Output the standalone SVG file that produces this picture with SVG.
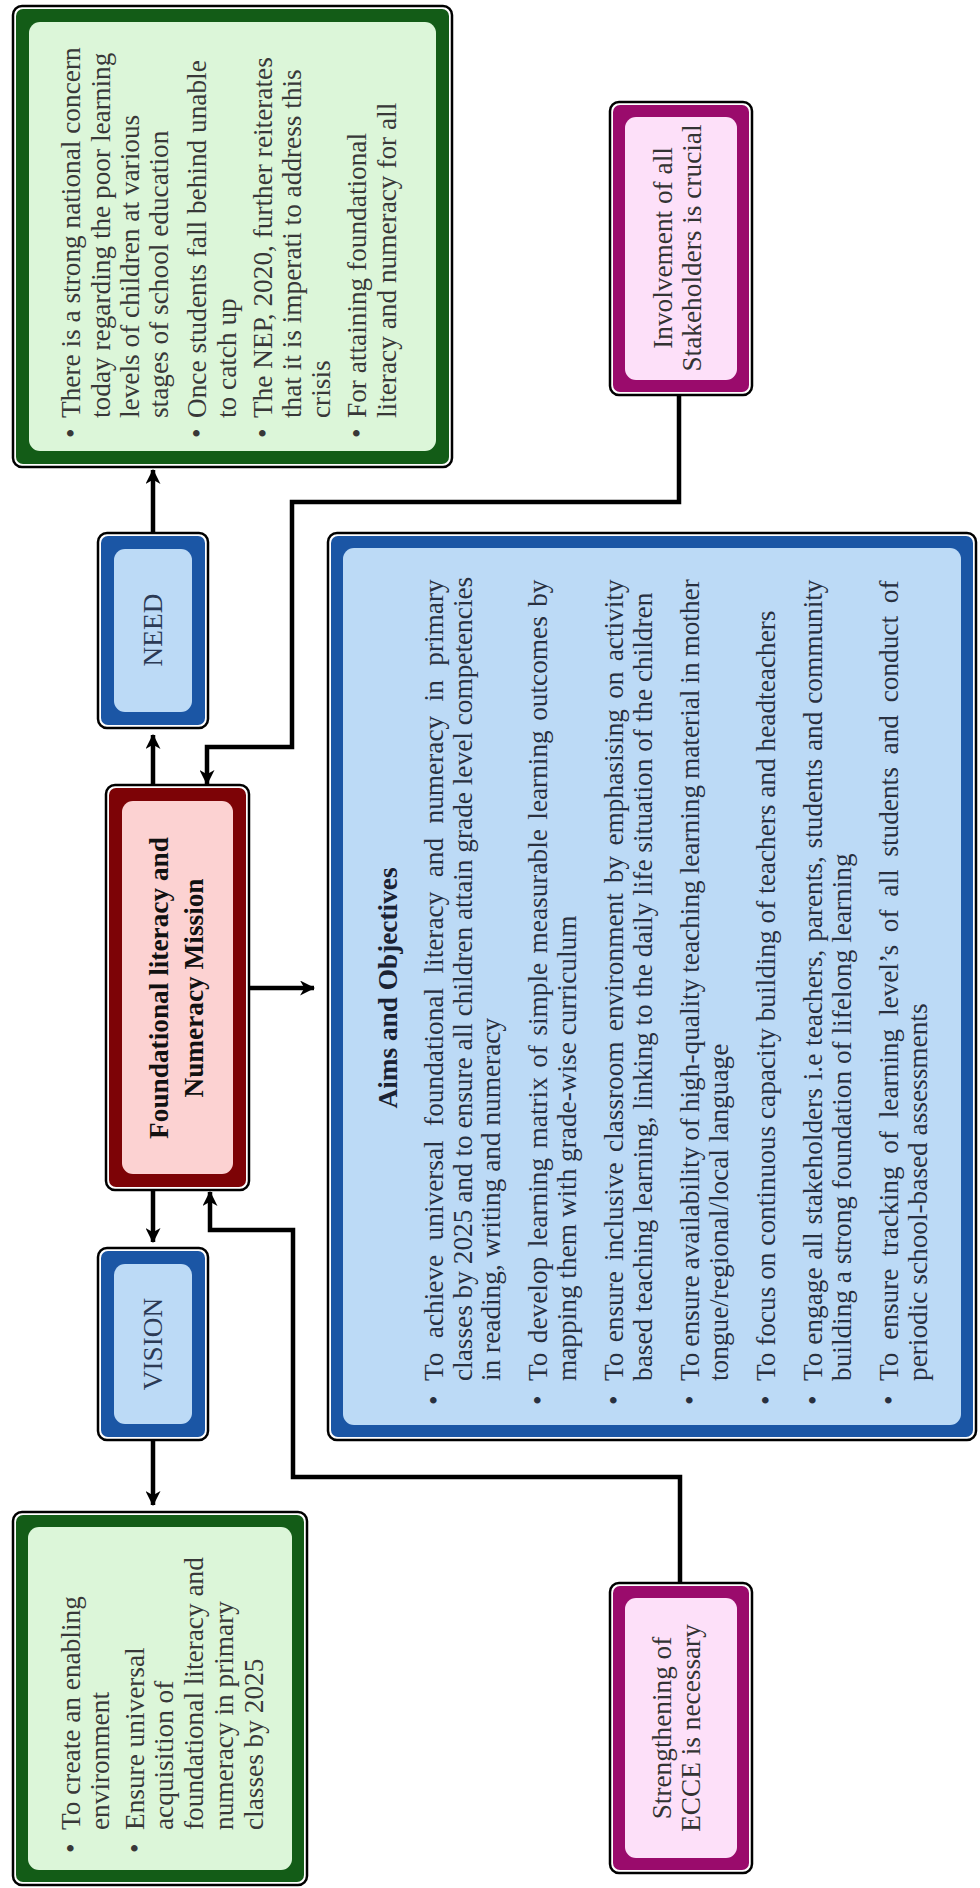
<svg xmlns="http://www.w3.org/2000/svg" width="980" height="1888" viewBox="0 0 980 1888">
<defs>
<style>
text { font-family: "Liberation Serif", "Times New Roman", serif; font-size: 27.3px; }
.outer { fill: #ffffff; stroke: #000000; stroke-width: 2.5; }
.gband { fill: #135c17; } .gfill { fill: #dcf6d9; }
.bband { fill: #1b56a5; } .bfill { fill: #bcdaf6; }
.rband { fill: #7d0306; } .rfill { fill: #fcd2d2; }
.mband { fill: #9a0b6c; } .mfill { fill: #fde0f9; }
.gtxt { fill: #383838; }
.btxt { fill: #2c3a55; }
.atxt { fill: #283040; }
.mtxt { fill: #333333; }
.bold { font-weight: bold; fill: #111111; }
.c { text-anchor: middle; }
.conn { fill: none; stroke: #000000; stroke-width: 4.5; stroke-linejoin: miter; }
</style>
<marker id="ah" viewBox="0 0 14 14" refX="13" refY="7" markerWidth="15" markerHeight="15" markerUnits="userSpaceOnUse" orient="auto">
<path d="M0,0 L14,7 L0,14 L4,7 z" fill="#000000"/>
</marker>
</defs>
<rect width="980" height="1888" fill="#ffffff"/>
<g transform="translate(0,1888) rotate(-90)">

<g id="connectors">
<line class="conn" x1="1355" y1="153" x2="1418" y2="153" marker-end="url(#ah)"/>
<line class="conn" x1="1103" y1="153" x2="1153" y2="153" marker-end="url(#ah)"/>
<line class="conn" x1="698" y1="153" x2="646" y2="153" marker-end="url(#ah)"/>
<line class="conn" x1="448" y1="153" x2="383" y2="153" marker-end="url(#ah)"/>
<line class="conn" x1="900" y1="249" x2="900" y2="314" marker-end="url(#ah)"/>
<polyline class="conn" points="1493,679 1386,679 1386,292 1141,292 1141,207 1104,207" marker-end="url(#ah)"/>
<polyline class="conn" points="305,680 411,680 411,293 658,293 658,210 696,210" marker-end="url(#ah)"/>
</g>

<g id="need-detail">
<rect class="outer" x="1421" y="13" width="461" height="439" rx="9"/>
<rect class="gband" x="1424" y="16" width="455" height="433" rx="7"/>
<rect class="gfill" x="1437" y="29" width="429" height="407" rx="11"/>
<g class="gtxt">
<text x="1450" y="80">•</text><text x="1470" y="80">There is a strong national concern</text>
<text x="1470" y="110">today regarding the poor learning</text>
<text x="1470" y="139">levels of children at various</text>
<text x="1470" y="168">stages of school education</text>
<text x="1450" y="206">•</text><text x="1470" y="206">Once students fall behind unable</text>
<text x="1470" y="236">to catch up</text>
<text x="1450" y="272">•</text><text x="1470" y="272">The NEP, 2020, further reiterates</text>
<text x="1470" y="301">that it is imperati to address this</text>
<text x="1470" y="330">crisis</text>
<text x="1450" y="366">•</text><text x="1470" y="366">For attaining foundational</text>
<text x="1470" y="396">literacy and numeracy for all</text>
</g>
</g>

<g id="involvement">
<rect class="outer" x="1493" y="610" width="293" height="142" rx="9"/>
<rect class="mband" x="1496" y="613" width="287" height="136" rx="7"/>
<rect class="mfill" x="1508" y="625" width="263" height="112" rx="11"/>
<text class="mtxt c" x="1640" y="672">Involvement of all</text>
<text class="mtxt c" x="1640" y="701">Stakeholders is crucial</text>
</g>

<g id="need">
<rect class="outer" x="1160" y="98" width="195" height="110" rx="9"/>
<rect class="bband" x="1163" y="101" width="189" height="104" rx="7"/>
<rect class="bfill" x="1176" y="114" width="163" height="78" rx="11"/>
<text class="btxt c" x="1258" y="162">NEED</text>
</g>

<g id="mission">
<rect class="outer" x="698" y="106" width="405" height="143" rx="9"/>
<rect class="rband" x="701" y="109" width="399" height="137" rx="7"/>
<rect class="rfill" x="714" y="122" width="373" height="111" rx="11"/>
<text class="bold c" x="900" y="168">Foundational literacy and</text>
<text class="bold c" x="900" y="203">Numeracy Mission</text>
</g>

<g id="aims">
<rect class="outer" x="448" y="328" width="907" height="648" rx="9"/>
<rect class="bband" x="451" y="331" width="901" height="642" rx="7"/>
<rect class="bfill" x="463" y="343" width="877" height="618" rx="11"/>
<text class="bold c" x="900" y="397" style="fill:#1a2233">Aims and Objectives</text>
<g class="atxt">
<text x="483" y="443">•</text>
<text x="507" y="443" style="word-spacing:7.6px">To achieve universal foundational literacy and numeracy in primary</text>
<text x="507" y="472">classes by 2025 and to ensure all children attain grade level competencies</text>
<text x="507" y="500">in reading, writing and numeracy</text>
<text x="483" y="547">•</text>
<text x="507" y="547" style="word-spacing:2.6px">To develop learning matrix of simple measurable learning outcomes by</text>
<text x="507" y="576">mapping them with grade-wise curriculum</text>
<text x="483" y="623">•</text>
<text x="507" y="623" style="word-spacing:3.4px">To ensure inclusive classroom environment by emphasising on activity</text>
<text x="507" y="652">based teaching learning, linking to the daily life situation of the children</text>
<text x="483" y="699">•</text>
<text x="507" y="699" style="word-spacing:-0.9px">To ensure availability of high-quality teaching learning material in mother</text>
<text x="507" y="728">tongue/regional/local language</text>
<text x="483" y="775">•</text>
<text x="507" y="775">To focus on continuous capacity building of teachers and headteachers</text>
<text x="483" y="822">•</text>
<text x="507" y="822" style="word-spacing:1px">To engage all stakeholders i.e teachers, parents, students and community</text>
<text x="507" y="851">building a strong foundation of lifelong learning</text>
<text x="483" y="898">•</text>
<text x="507" y="898" style="word-spacing:5.9px">To ensure tracking of learning level’s of all students and conduct of</text>
<text x="507" y="927">periodic school-based assessments</text>
</g>
</g>

<g id="vision">
<rect class="outer" x="448" y="98" width="192" height="110" rx="9"/>
<rect class="bband" x="451" y="101" width="186" height="104" rx="7"/>
<rect class="bfill" x="464" y="114" width="160" height="78" rx="11"/>
<text class="btxt c" x="544" y="162">VISION</text>
</g>

<g id="vision-detail">
<rect class="outer" x="3" y="13" width="373" height="294" rx="9"/>
<rect class="gband" x="6" y="16" width="367" height="288" rx="7"/>
<rect class="gfill" x="18" y="28" width="343" height="264" rx="11"/>
<g class="gtxt">
<text x="35" y="80">•</text><text x="58" y="80">To create an enabling</text>
<text x="58" y="109">environment</text>
<text x="35" y="144">•</text><text x="58" y="144">Ensure universal</text>
<text x="58" y="173">acquisition of</text>
<text x="58" y="203">foundational literacy and</text>
<text x="58" y="233">numeracy in primary</text>
<text x="58" y="263">classes by 2025</text>
</g>
</g>

<g id="ecce">
<rect class="outer" x="15" y="610" width="290" height="142" rx="9"/>
<rect class="mband" x="18" y="613" width="284" height="136" rx="7"/>
<rect class="mfill" x="30" y="625" width="260" height="112" rx="11"/>
<text class="mtxt c" x="160" y="671">Strengthening of</text>
<text class="mtxt c" x="160" y="700">ECCE is necessary</text>
</g>

</g>
</svg>
